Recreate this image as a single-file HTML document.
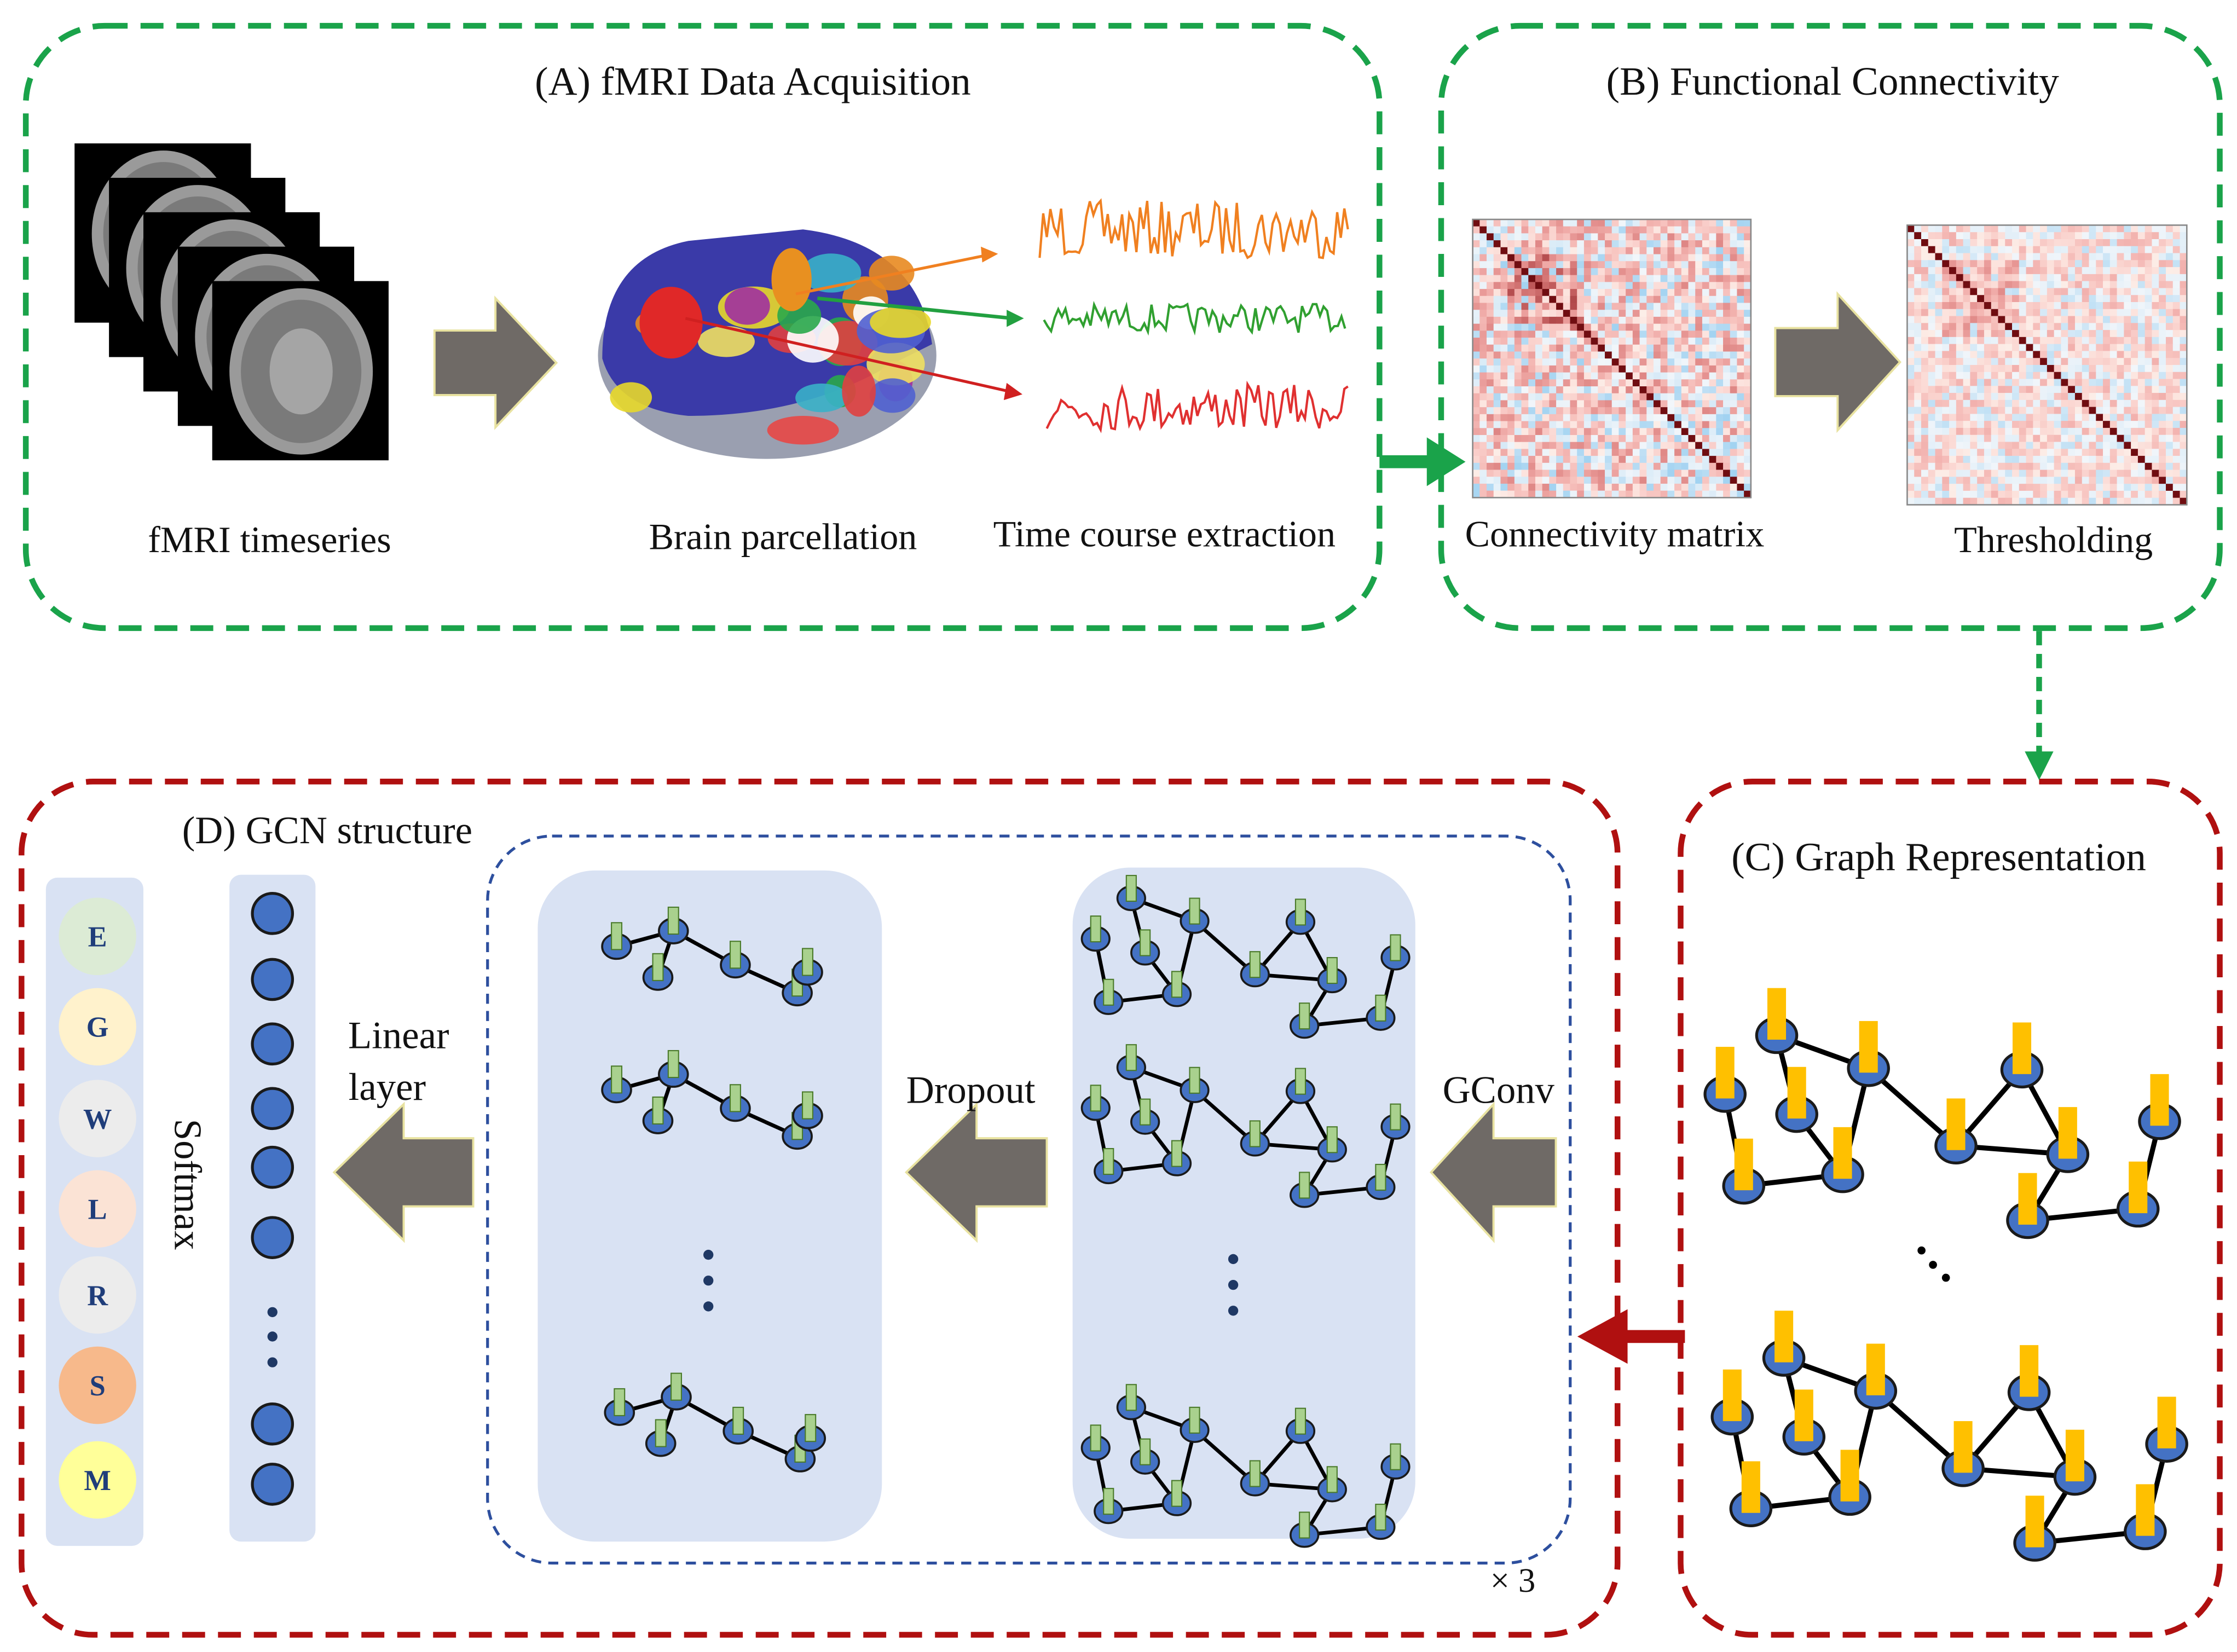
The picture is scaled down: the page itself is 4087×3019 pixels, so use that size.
<!DOCTYPE html>
<html><head><meta charset="utf-8"><style>html,body{margin:0;padding:0;background:#fff}svg{display:block}text{font-family:"Liberation Serif",serif;fill:#111}</style></head>
<body>
<svg id="s" width="4087" height="3019" viewBox="0 0 1560 1152" preserveAspectRatio="none" xmlns="http://www.w3.org/2000/svg">
<rect width="1560" height="1152" fill="#fff"/>
<rect x="18" y="18" width="944" height="420" rx="55" fill="none" stroke="#1aa34a" stroke-width="4" stroke-dasharray="16,9"/>
<rect x="1005" y="18" width="543" height="420" rx="55" fill="none" stroke="#1aa34a" stroke-width="4" stroke-dasharray="16,9"/>
<rect x="1172" y="545" width="376" height="595" rx="50" fill="none" stroke="#b01010" stroke-width="4" stroke-dasharray="16,9"/>
<rect x="15" y="545" width="1113" height="595" rx="50" fill="none" stroke="#b01010" stroke-width="4" stroke-dasharray="16,9"/>
<rect x="340" y="583" width="755" height="507" rx="45" fill="none" stroke="#2d4f9e" stroke-width="2" stroke-dasharray="7,5"/>
<rect x="375" y="607" width="240" height="468" rx="40" fill="#d9e2f3"/>
<rect x="748" y="605" width="239" height="468" rx="40" fill="#d9e2f3"/>
<rect x="160" y="610" width="60" height="465" rx="8" fill="#d9e2f3"/>
<rect x="32" y="612" width="68" height="466" rx="8" fill="#d9e2f3"/>
<line x1="962" y1="322" x2="1000" y2="322" stroke="#1aa34a" stroke-width="9"/>
<path d="M995,305 L1022,322 L995,339z" fill="#1aa34a"/>
<line x1="1422" y1="440" x2="1422" y2="528" stroke="#1aa34a" stroke-width="4" stroke-dasharray="10,6"/>
<path d="M1412,524 L1422,544 L1432,524z" fill="#1aa34a"/>
<line x1="1175" y1="932" x2="1130" y2="932" stroke="#b01010" stroke-width="9"/>
<path d="M1135,913 L1100,932 L1135,951z" fill="#b01010"/>
<g id="g"></g>
<text x="525" y="66" font-size="28" text-anchor="middle">(A) fMRI Data Acquisition</text>
<text x="1278" y="66" font-size="28" text-anchor="middle">(B) Functional Connectivity</text>
<text x="188" y="385" font-size="26" text-anchor="middle">fMRI timeseries</text>
<text x="546" y="383" font-size="26" text-anchor="middle">Brain parcellation</text>
<text x="812" y="381" font-size="26" text-anchor="middle">Time course extraction</text>
<text x="1126" y="381" font-size="26" text-anchor="middle">Connectivity matrix</text>
<text x="1432" y="385" font-size="26" text-anchor="middle">Thresholding</text>
<text x="1352" y="607" font-size="28" text-anchor="middle">(C) Graph Representation</text>
<text x="127" y="588" font-size="27">(D) GCN structure</text>
<text x="278" y="731" font-size="27" text-anchor="middle">Linear</text>
<text x="270" y="767" font-size="27" text-anchor="middle">layer</text>
<text x="677" y="769" font-size="27" text-anchor="middle">Dropout</text>
<text x="1045" y="769" font-size="27" text-anchor="middle">GConv</text>
<text x="1055" y="1110" font-size="24" text-anchor="middle">× 3</text>
<text x="0" y="0" font-size="27" text-anchor="middle" transform="translate(122,826) rotate(90)">Softmax</text>
<g font-size="20" font-weight="bold">
<circle cx="68" cy="653" r="27" fill="#dcebd5"/><text x="68" y="660" text-anchor="middle" style="fill:#1f3d7a">E</text>
<circle cx="68" cy="716" r="27" fill="#fff2cc"/><text x="68" y="723" text-anchor="middle" style="fill:#1f3d7a">G</text>
<circle cx="68" cy="780" r="27" fill="#ececec"/><text x="68" y="787" text-anchor="middle" style="fill:#1f3d7a">W</text>
<circle cx="68" cy="843" r="27" fill="#fbe3d5"/><text x="68" y="850" text-anchor="middle" style="fill:#1f3d7a">L</text>
<circle cx="68" cy="903" r="27" fill="#ececec"/><text x="68" y="910" text-anchor="middle" style="fill:#1f3d7a">R</text>
<circle cx="68" cy="966" r="27" fill="#f7b98b"/><text x="68" y="973" text-anchor="middle" style="fill:#1f3d7a">S</text>
<circle cx="68" cy="1032" r="27" fill="#ffff99"/><text x="68" y="1039" text-anchor="middle" style="fill:#1f3d7a">M</text>
</g>
</svg>
<script>
var g=document.getElementById('g'),h='';
function A(s){h+=s;}
var seed=7;function R(){seed=(seed*16807)%2147483647;return seed/2147483647;}
function arrR(x,y,w,hh){var m=y+hh/2,sh=w*0.5;A('<path d="M'+x+','+(y+hh*0.25)+' L'+(x+sh)+','+(y+hh*0.25)+' L'+(x+sh)+','+y+' L'+(x+w)+','+m+' L'+(x+sh)+','+(y+hh)+' L'+(x+sh)+','+(y+hh*0.75)+' L'+x+','+(y+hh*0.75)+'z" fill="#6f6a66" stroke="#e8e2a0" stroke-width="1.5"/>');}
function arrL(x,y,w,hh){var m=y+hh/2,sh=w*0.5;A('<path d="M'+(x+w)+','+(y+hh*0.25)+' L'+(x+sh)+','+(y+hh*0.25)+' L'+(x+sh)+','+y+' L'+x+','+m+' L'+(x+sh)+','+(y+hh)+' L'+(x+sh)+','+(y+hh*0.75)+' L'+(x+w)+','+(y+hh*0.75)+'z" fill="#6f6a66" stroke="#e8e2a0" stroke-width="1.5"/>');}
arrR(303,208,85,90);arrR(1238,205,87,95);arrL(233,770,97,95);arrL(632,770,98,95);arrL(998,770,87,95);
for(var i=0;i<5;i++){var x=52+i*24,y=100+i*24;A('<rect x="'+x+'" y="'+y+'" width="123" height="125" fill="#000"/><ellipse cx="'+(x+62)+'" cy="'+(y+63)+'" rx="50" ry="58" fill="#9a9a9a"/><ellipse cx="'+(x+62)+'" cy="'+(y+63)+'" rx="42" ry="50" fill="#7a7a7a"/><ellipse cx="'+(x+62)+'" cy="'+(y+63)+'" rx="22" ry="30" fill="#a5a5a5"/>');}
A('<ellipse cx="535" cy="248" rx="118" ry="72" fill="#9a9fb0"/><path d="M420,250 Q420,180 480,168 L560,160 Q640,170 650,240 L620,255 Q560,290 480,290 Q430,285 420,250z" fill="#3a3aa8"/>');
var cols=['#e8d82a','#2aa84a','#e04040','#e88a20','#3ab0c8','#a030a0','#f0e060','#5060d0','#ffffff'];
for(var i=0;i<22;i++){A('<ellipse cx="'+(440+R()*200)+'" cy="'+(185+R()*100)+'" rx="'+(10+R()*16)+'" ry="'+(8+R()*12)+'" fill="'+cols[i%9]+'" opacity="0.9"/>');}
A('<ellipse cx="468" cy="225" rx="22" ry="25" fill="#e02828"/><ellipse cx="552" cy="195" rx="14" ry="22" fill="#e89020"/><ellipse cx="560" cy="300" rx="25" ry="10" fill="#e05050"/>');
A('<line x1="555" y1="205" x2="688" y2="178" stroke="#f08020" stroke-width="2"/><path d="M684,172 L696,177 L685,183z" fill="#f08020"/>');
A('<line x1="570" y1="208" x2="706" y2="222" stroke="#22a040" stroke-width="2.5"/><path d="M702,216 L714,222 L702,228z" fill="#22a040"/>');
A('<line x1="478" y1="222" x2="704" y2="273" stroke="#d02020" stroke-width="2"/><path d="M702,267 L713,275 L700,279z" fill="#d02020"/>');
function ts(x0,x1,y,amp,c){var p='';for(var x=x0;x<=x1;x+=2.5){p+=x.toFixed(1)+','+(y+(R()-0.5)*amp*2).toFixed(1)+' ';}A('<polyline points="'+p+'" fill="none" stroke="'+c+'" stroke-width="1.6"/>');}
ts(725,940,160,20,'#f08020');ts(728,940,222,10,'#30a030');ts(730,942,284,16,'#e03030');
function mat(x,y,w,th){var n=40,c=w/n,s='';var v=[];for(var i=0;i<n;i++){v[i]=[];for(var j=0;j<n;j++){
var blk=(i>4&&i<16&&j>4&&j<16)?0.35:0;var base=R()*0.9-0.3+blk;if(R()<0.12)base=-0.5-R()*0.4;
v[i][j]=(j<i)?v[j][i]:(i==j?1.3:base);}}
for(var i=0;i<n;i++)for(var j=0;j<n;j++){var a=v[i][j];if(th&&i!=j)a*=0.6;var col;
if(a>=0){var t=Math.min(a,1.3)/1.3;var r=Math.round(252-t*t*140),gg=Math.round(238-t*225),b=Math.round(232-t*215);col='rgb('+r+','+gg+','+b+')';}
else{var t=Math.min(-a,1);col='rgb('+(242-Math.round(t*90))+','+(246-Math.round(t*40))+','+(250-Math.round(t*10))+')';}
s+='<rect x="'+(x+j*c).toFixed(2)+'" y="'+(y+i*c).toFixed(2)+'" width="'+(c+0.3).toFixed(2)+'" height="'+(c+0.3).toFixed(2)+'" fill="'+col+'"/>';}
A(s+'<rect x="'+x+'" y="'+y+'" width="'+w+'" height="'+w+'" fill="none" stroke="#888" stroke-width="1"/>');}
mat(1027,153,194,false);mat(1330,157,195,true);
var N=[[1203,763],[1239,722],[1253,777],[1303,745],[1216,827],[1285,819],[1410,746],[1364,799],[1442,805],[1506,782],[1414,851],[1491,843]];
var E=[[0,4],[1,2],[1,3],[2,5],[4,5],[5,3],[3,7],[7,6],[6,8],[7,8],[8,10],[10,11],[11,9]];
function graph(ox,oy,sc,nodes,edges,bar,bh){var s='';function P(k){return [ox+(nodes[k][0]-1200)*sc,oy+(nodes[k][1]-720)*sc];}
edges.forEach(function(e){var a=P(e[0]),b=P(e[1]);s+='<line x1="'+a[0]+'" y1="'+a[1]+'" x2="'+b[0]+'" y2="'+b[1]+'" stroke="#000" stroke-width="'+(3*sc+0.5)+'"/>';});
nodes.forEach(function(n,k){var p=P(k);s+='<ellipse cx="'+p[0]+'" cy="'+p[1]+'" rx="'+(14*sc)+'" ry="'+(12*sc)+'" fill="#4472c4" stroke="#1a1a1a" stroke-width="'+(2*sc)+'"/>';
var bw=(bar=='#ffc000'?13:10)*sc,h2=bh*sc;s+='<rect x="'+(p[0]-bw/2)+'" y="'+(p[1]+3*sc-h2)+'" width="'+bw+'" height="'+h2+'" fill="'+bar+'"'+(bar!='#ffc000'?' stroke="#4a7a2a" stroke-width="0.8"':'')+'/>';});A(s);}
graph(1200,720,1,N,E,'#ffc000',36);graph(1205,945,1,N,E,'#ffc000',36);
graph(762,625,0.69,N,E,'#a9d18e',26);graph(762,743,0.69,N,E,'#a9d18e',26);graph(762,980,0.69,N,E,'#a9d18e',26);
var N2=[[1200,720],[1255,705],[1240,750],[1315,738],[1375,765],[1385,745]];var E2=[[0,1],[1,2],[1,3],[3,4],[4,5]];
function g2(ox,oy){graph(ox,oy,0.72,N2,E2,'#a9d18e',26);}
g2(430,660);g2(430,760);g2(432,985);
[[494,875],[494,893],[494,911],[860,878],[860,896],[860,914]].forEach(function(d){A('<circle cx="'+d[0]+'" cy="'+d[1]+'" r="3.5" fill="#1f3864"/>');});
[[1340,872],[1348,882],[1357,891]].forEach(function(d){A('<circle cx="'+d[0]+'" cy="'+d[1]+'" r="2.8" fill="#000"/>');});
[637,683,728,773,814,863,993,1035].forEach(function(y){A('<circle cx="190" cy="'+y+'" r="14" fill="#4472c4" stroke="#1a1a1a" stroke-width="2"/>');});
[915,932,950].forEach(function(y){A('<circle cx="190" cy="'+y+'" r="3.5" fill="#1f3864"/>');});
g.innerHTML=h;
</script>
</body></html>
